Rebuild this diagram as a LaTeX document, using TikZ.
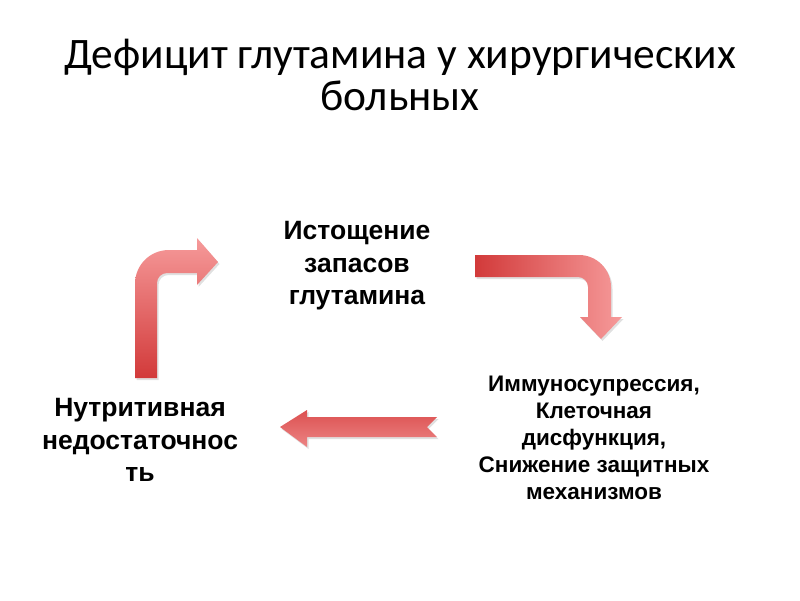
\documentclass[tikz,border=0pt]{standalone}
\usepackage{fontspec}
\setmainfont{Liberation Sans}
\newfontfamily\titlefont{Carlito}
\definecolor{arrdark}{HTML}{D23A3A}
\definecolor{arrlight}{HTML}{F69A9A}
\definecolor{arrmid}{HTML}{DC5050}
\definecolor{arrlow}{HTML}{EC8484}
\begin{document}
\begin{tikzpicture}[x=1pt,y=-1pt,
  titletext/.style={align=center,font=\titlefont\fontsize{43.5}{42}\selectfont,text=black},
  bigtext/.style={align=center,font=\fontsize{26.5}{32.5}\selectfont\bfseries,text=black},
  smalltext/.style={align=center,font=\fontsize{22.5}{27}\selectfont\bfseries,text=black},
  shadowpart/.style={fill=black,opacity=0.12,draw=none}
]
\useasboundingbox (0,0) rectangle (800,600);
\fill[white] (0,0) rectangle (800,600);

\node[titletext] (title) at (400,75) {Дефицит глутамина у хирургических\\больных};

\node[bigtext] (depl) at (357,266) {Истощение\\запасов\\глутамина};
\node[smalltext] (immun) at (594,438) {Иммуносупрессия,\\Клеточная\\дисфункция,\\Снижение защитных\\механизмов};
\node[bigtext] (nutr) at (140,440) {Нутритивная\\недостаточнос\\ть};

\def\arrowone{(135,378) -- (135,284) .. controls (135,265.2) and (149.8,250) .. (169,250) -- (197,250) -- (197,238) -- (218,262) -- (197,285) -- (197,273) -- (167,273) .. controls (161.5,273) and (157,277.5) .. (157,283) -- (157,378) -- cycle}
\def\arrowtwo{(475,255) -- (579,255) .. controls (596.7,255) and (611,269.3) .. (611,287) -- (611,317) -- (622,317) -- (601,339) -- (580,317) -- (588,317) -- (588,287) .. controls (588,281.5) and (583.5,277) .. (578,277) -- (475,277) -- cycle}
\def\arrowthree{(280,427) -- (307,410) -- (307,417) -- (437,417) -- (427,427) -- (437,437) -- (307,437) -- (307,447) -- cycle}

% arrow 1: up then right
\begin{scope}[shift={(1.5,2)}]
\path[shadowpart] \arrowone;
\end{scope}
\shade[bottom color=arrdark,top color=arrlight] \arrowone;

% arrow 2: right then down
\begin{scope}[shift={(1.5,2)}]
\path[shadowpart] \arrowtwo;
\end{scope}
\shade[left color=arrdark,right color=arrlight] \arrowtwo;

% arrow 3: left
\begin{scope}[shift={(1.5,2)}]
\path[shadowpart] \arrowthree;
\end{scope}
\shade[top color=arrmid,bottom color=arrlow] \arrowthree;
\end{tikzpicture}
\end{document}
